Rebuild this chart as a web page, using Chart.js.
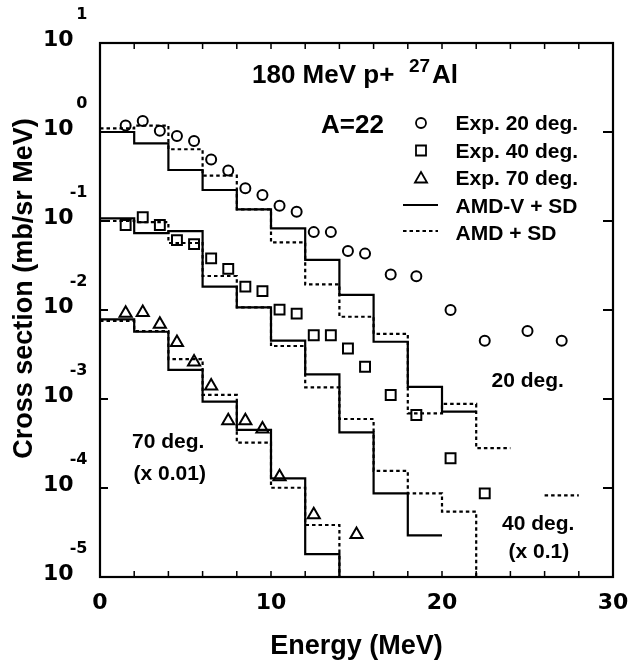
<!DOCTYPE html>
<html>
<head>
<meta charset="utf-8">
<script src="https://cdn.jsdelivr.net/npm/chart.js@4.4.1/dist/chart.umd.min.js"></script>
<style>
  html, body { margin: 0; padding: 0; background: #fff; }
  #wrap { width: 629px; height: 668px; }
</style>
</head>
<body>
<div id="wrap"><canvas id="myChart"></canvas></div>
<script>
//---------------------------
// DATA
//---------------------------

// histograms: one value per 2 MeV bin starting at 0 MeV
// 1e-7 = falls below the axis, null = no bin
const binWidth = 2;
const amdv20 = [1.0, 0.746, 0.374, 0.223, 0.135, 0.0828, 0.0365, 0.0148, 0.0044, 0.00137, 0.00072];
const amd20  = [1.10, 1.18, 0.64, 0.323, 0.135, 0.0576, 0.0194, 0.0084, 0.0054, 0.00069, 0.00088, 0.00028];
const amdv40 = [0.107, 0.073, 0.077, 0.0183, 0.0107, 0.00452, 0.00189, 0.000422, 0.0000871, 0.0000294];
const amd40  = [0.100, 0.097, 0.0566, 0.0241, 0.0107, 0.00394, 0.00135, 0.000596, 0.000156, 0.0000871, 0.0000542, 1e-7, null, 0.0000826];
const amdv70 = [0.00786, 0.0057, 0.00212, 0.000933, 0.000449, 0.000128, 0.0000181, 1e-7];
const amd70  = [0.00752, 0.0058, 0.00281, 0.00111, 0.000323, 0.0001007, 0.0000384, 1e-7];

// experimental points
const exp20E = [1.5, 2.5, 3.5, 4.5, 5.5, 6.5, 7.5, 8.5, 9.5, 10.5, 11.5, 12.5, 13.5, 14.5, 15.5, 17, 18.5, 20.5, 22.5, 25, 27];
const exp20  = [1.18, 1.33, 1.03, 0.90, 0.79, 0.49, 0.37, 0.233, 0.196, 0.148, 0.127, 0.075, 0.075, 0.046, 0.043, 0.025, 0.024, 0.0100, 0.0045, 0.0058, 0.0045];
const exp40E = [1.5, 2.5, 3.5, 4.5, 5.5, 6.5, 7.5, 8.5, 9.5, 10.5, 11.5, 12.5, 13.5, 14.5, 15.5, 17, 18.5, 20.5, 22.5];
const exp40  = [0.090, 0.110, 0.090, 0.061, 0.055, 0.038, 0.029, 0.0183, 0.0163, 0.0101, 0.0091, 0.0052, 0.0052, 0.0037, 0.0023, 0.00111, 0.00066, 0.000216, 0.000087];
const exp70E = [1.5, 2.5, 3.5, 4.5, 5.5, 6.5, 7.5, 8.5, 9.5, 10.5, 12.5, 15];
const exp70  = [0.0092, 0.0094, 0.0069, 0.0043, 0.0026, 0.0014, 0.00057, 0.00057, 0.00046, 0.000134, 0.000050, 0.000030];

// axes
const xTickMarks = [2, 4, 6, 8, 10, 12, 14, 16, 18, 20, 22, 24, 26, 28];
const yDecades = [1, 0, -1, -2, -3, -4, -5];

const legendLabels = ['Exp. 20 deg.', 'Exp. 40 deg.', 'Exp. 70 deg.', 'AMD-V + SD', 'AMD + SD'];

//---------------------------
// HELPERS
//---------------------------

function steps(vals) {
    var pts = vals.map((v, i) => ({x: i * binWidth, y: v}));
    var last = vals[vals.length - 1];
    if (last > 1e-6) pts.push({x: vals.length * binWidth, y: last});
    return pts;
}

function pairs(xs, ys) {
    return xs.map((x, i) => ({x: x, y: ys[i]}));
}

function histo(vals, dashed) {
    return {
        type: 'line',
        data: steps(vals),
        stepped: true,
        borderColor: '#000',
        borderWidth: 2.2,
        borderDash: dashed ? [3.5, 3] : [],
        pointRadius: 0,
        fill: false
    };
}

function markers(xs, ys, style, r) {
    return {
        type: 'scatter',
        data: pairs(xs, ys),
        pointStyle: style,
        pointRadius: r,
        pointBorderWidth: 2,
        borderColor: '#000',
        backgroundColor: 'rgba(0,0,0,0)',
        showLine: false
    };
}

function mark(ctx, style, x, y) {
    ctx.beginPath();
    if (style === 'circle') {
        ctx.arc(x, y, 5, 0, Math.PI * 2);
    } else if (style === 'rect') {
        ctx.rect(x - 5, y - 5, 10, 10);
    } else {
        ctx.moveTo(x, y - 7);
        ctx.lineTo(x + 6.06, y + 3.5);
        ctx.lineTo(x - 6.06, y + 3.5);
        ctx.closePath();
    }
    ctx.stroke();
}

//---------------------------
// FRAME, LABELS, LEGEND
//---------------------------

const bold = (size, fam) => 'bold ' + size + 'px "' + (fam || 'Liberation Sans') + '"';

const decorations = {
    id: 'decorations',
    afterDraw(chart) {
        const ctx = chart.ctx;
        const a = chart.chartArea;
        const xs = chart.scales.x;
        const ys = chart.scales.y;
        ctx.save();
        ctx.strokeStyle = '#000';
        ctx.fillStyle = '#000';
        ctx.setLineDash([]);

        // frame
        ctx.lineWidth = 2.2;
        ctx.strokeRect(a.left, a.top, a.right - a.left, a.bottom - a.top);

        // inward ticks
        ctx.lineWidth = 1.5;
        ctx.beginPath();
        xTickMarks.forEach(v => {
            const px = xs.getPixelForValue(v);
            ctx.moveTo(px, a.bottom); ctx.lineTo(px, a.bottom - 6);
            ctx.moveTo(px, a.top); ctx.lineTo(px, a.top + 6);
        });
        ctx.stroke();
        ctx.lineWidth = 2;
        ctx.beginPath();
        yDecades.forEach(d => {
            if (d === 1 || d === -5) return;
            const py = ys.getPixelForValue(Math.pow(10, d));
            ctx.moveTo(a.left, py); ctx.lineTo(a.left + 8, py);
            ctx.moveTo(a.right, py); ctx.lineTo(a.right - 10, py);
        });
        ctx.stroke();

        // y tick labels 10^n
        ctx.textAlign = 'right';
        ctx.textBaseline = 'middle';
        yDecades.forEach(d => {
            const py = ys.getPixelForValue(Math.pow(10, d));
            ctx.font = bold(22, 'DejaVu Sans');
            ctx.fillText('10', 73.5, py - 3);
            ctx.font = bold(16, 'DejaVu Sans');
            ctx.fillText(String(d), 87.5, py - 28);
        });

        // y title
        ctx.save();
        ctx.translate(32, 288.5);
        ctx.rotate(-Math.PI / 2);
        ctx.textAlign = 'center';
        ctx.textBaseline = 'alphabetic';
        ctx.font = bold(27);
        ctx.fillText('Cross section (mb/sr MeV)', 0, 0);
        ctx.restore();

        // texts in the plot
        ctx.textAlign = 'left';
        ctx.textBaseline = 'alphabetic';
        ctx.font = bold(26);
        ctx.fillText('180 MeV p+', 252, 83.3);
        ctx.fillText('Al', 432, 83.3);
        ctx.fillText('A=22', 321, 133);
        ctx.font = bold(19);
        ctx.fillText('27', 409, 72);

        ctx.font = bold(21);
        ctx.fillText('20 deg.', 491.5, 386.7);
        ctx.fillText('70 deg.', 132, 448);
        ctx.fillText('(x 0.01)', 133.5, 480);
        ctx.fillText('40 deg.', 502, 530);
        ctx.fillText('(x 0.1)', 508.5, 558.3);

        // legend
        const base = [130, 157.5, 185, 212.5, 240];
        legendLabels.forEach((t, i) => {
            ctx.fillText(t, 455.5, base[i]);
        });
        ctx.lineWidth = 1.8;
        mark(ctx, 'circle', 421, base[0] - 7);
        mark(ctx, 'rect', 421, base[1] - 7);
        mark(ctx, 'triangle', 421, base[2] - 6);
        ctx.lineWidth = 2.2;
        ctx.beginPath();
        ctx.moveTo(403, base[3] - 7.5); ctx.lineTo(438, base[3] - 7.5);
        ctx.stroke();
        ctx.setLineDash([3.5, 3]);
        ctx.beginPath();
        ctx.moveTo(403, base[4] - 9); ctx.lineTo(438, base[4] - 9);
        ctx.stroke();
        ctx.restore();
    }
};

//---------------------------
// CHART
//---------------------------

const ctx = document.getElementById('myChart');

new Chart(ctx, {
    type: 'scatter',
    data: {
        datasets: [
            histo(amdv20, false),
            histo(amd20, true),
            histo(amdv40, false),
            histo(amd40, true),
            histo(amdv70, false),
            histo(amd70, true),
            markers(exp20E, exp20, 'circle', 5),
            markers(exp40E, exp40, 'rect', 7),
            markers(exp70E, exp70, 'triangle', 7)
        ]
    },
    options: {
        responsive: true,
        maintainAspectRatio: false,
        animation: false,
        layout: { padding: { left: 0, right: 16, top: 43, bottom: 0 } },
        plugins: {
            legend: { display: false },
            tooltip: { enabled: false }
        },
        scales: {
            x: {
                type: 'linear',
                min: 0,
                max: 30,
                afterFit: s => { s.height = 91; s.paddingLeft = 0; s.paddingRight = 0; },
                grid: { display: false, drawTicks: false },
                border: { display: false },
                ticks: {
                    stepSize: 10,
                    padding: 13,
                    color: '#000',
                    font: { family: 'DejaVu Sans', size: 22, weight: 'bold' }
                },
                title: {
                    display: true,
                    text: 'Energy (MeV)',
                    color: '#000',
                    font: { family: 'Liberation Sans', size: 27, weight: 'bold' },
                    padding: { top: 0, bottom: 5 }
                }
            },
            y: {
                type: 'logarithmic',
                min: 1e-5,
                max: 10,
                afterFit: s => { s.width = 100; s.paddingTop = 0; s.paddingBottom = 0; },
                grid: { display: false, drawTicks: false },
                border: { display: false },
                ticks: { display: false }
            }
        }
    },
    plugins: [decorations]
});
</script>
</body>
</html>
